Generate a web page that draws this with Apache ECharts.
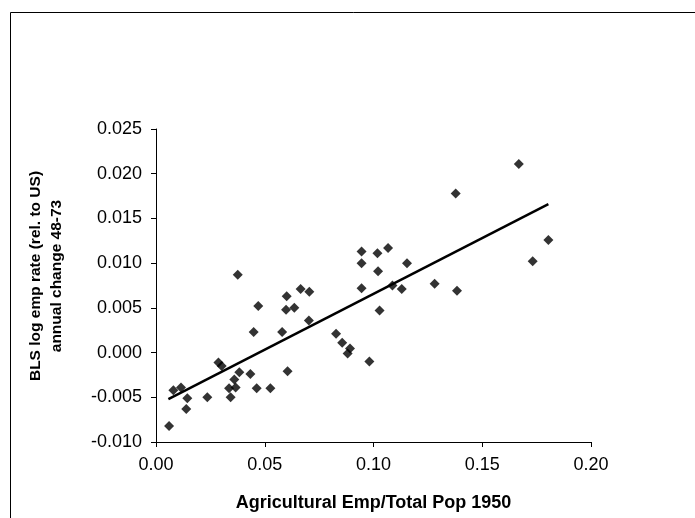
<!DOCTYPE html>
<html>
<head>
<meta charset="utf-8">
<script src="https://cdn.jsdelivr.net/npm/echarts@6/dist/echarts.min.js"></script>
<style>html,body{margin:0;padding:0;background:#fff}#c{width:695px;height:518px}</style>
</head>
<body>
<div id="c"></div>
<script>
// Agricultural employment / total population 1950 (x)
const agEmpShare = [0.0060,0.0080,0.0115,0.0144,0.0139,0.0236,0.0287,0.0302,0.0336,0.0343,
  0.0360,0.0366,0.0383,0.0434,0.0449,0.0463,0.0470,0.0526,0.0580,0.0598,
  0.0605,0.0636,0.0703,0.0828,0.0856,0.0892,0.0881,0.0376,0.0601,0.0665,
  0.0705,0.1668,0.1378,0.1804,0.1732,0.0945,0.1018,0.1067,0.0945,0.1021,
  0.1154,0.0945,0.1087,0.1130,0.1281,0.1384,0.1028,0.0981];
// BLS log employment rate (rel. to US), annual change 48-73 (y)
const empRateChange = [-0.0082,-0.0042,-0.0039,-0.0051,-0.0063,-0.0050,-0.0011,-0.0015,-0.0040,-0.0050,
  -0.0030,-0.0039,-0.0022,-0.0024,0.0023,-0.0040,0.0052,-0.0040,0.0023,0.0048,
  -0.0021,0.0050,0.0036,0.0021,0.0011,0.00045,-0.0001,0.0087,0.0063,0.0071,
  0.0068,0.0211,0.0178,0.0126,0.0102,0.0113,0.0111,0.0117,0.0100,0.0091,
  0.0100,0.0072,0.0075,0.0071,0.0077,0.0069,0.0047,-0.0010];
// Linear trend line endpoints
const trendX = [0.0057, 0.1804];
const trendY = [-0.0052, 0.0166];
// Axis ticks
const xTicks = [0.00, 0.05, 0.10, 0.15, 0.20];
const yTicks = [-0.010, -0.005, 0.000, 0.005, 0.010, 0.015, 0.020, 0.025];
// Axis titles
const xTitle = 'Agricultural Emp/Total Pop 1950';
const yTitleLines = ['BLS log emp rate (rel. to US)', 'annual change 48-73'];

const scatterData = agEmpShare.map((x, i) => [x, empRateChange[i]]);
const trendData = trendX.map((x, i) => [x, trendY[i]]);

const chart = echarts.init(document.getElementById('c'), null, {renderer: 'canvas'});
const font = 'Liberation Sans, Arial, sans-serif';
const yTitleStyle = {fontFamily: font, fontWeight: 'bold', fontSize: 15.5, fill: '#000',
  textAlign: 'center', textVerticalAlign: 'middle'};
chart.setOption({
  animation: false,
  backgroundColor: '#fff',
  graphic: [{
    type: 'rect', left: 8, top: 10, silent: true,
    shape: {x: 0, y: 0, width: 720, height: 540},
    style: {fill: 'none', stroke: '#000', lineWidth: 1}
  }, {
    type: 'text', x: 36, y: 276, rotation: Math.PI / 2, silent: true,
    style: Object.assign({text: yTitleLines[0]}, yTitleStyle)
  }, {
    type: 'text', x: 57, y: 276, rotation: Math.PI / 2, silent: true,
    style: Object.assign({text: yTitleLines[1]}, yTitleStyle)
  }],
  grid: {left: 156, right: 104, top: 129, bottom: 76, containLabel: false},
  xAxis: {
    type: 'value', min: xTicks[0], max: xTicks[xTicks.length - 1], interval: 0.05,
    name: xTitle, nameLocation: 'middle', nameGap: 52,
    nameTextStyle: {fontFamily: font, fontWeight: 'bold', fontSize: 18, color: '#000'},
    axisLine: {show: true, onZero: false, lineStyle: {color: '#000', width: 1}},
    axisTick: {show: true, inside: false, length: 5, lineStyle: {color: '#000'}},
    axisLabel: {fontFamily: font, fontSize: 18, color: '#000', margin: 14,
      formatter: v => v.toFixed(2)},
    splitLine: {show: false}
  },
  yAxis: {
    type: 'value', min: yTicks[0], max: yTicks[yTicks.length - 1], interval: 0.005,
    axisLine: {show: true, onZero: false, lineStyle: {color: '#000', width: 1}},
    axisTick: {show: true, inside: false, length: 5, lineStyle: {color: '#000'}},
    axisLabel: {fontFamily: font, fontSize: 18, color: '#000', margin: 14,
      formatter: v => v.toFixed(3)},
    splitLine: {show: false}
  },
  series: [{
    type: 'scatter', data: scatterData, symbol: 'diamond', symbolSize: 10,
    itemStyle: {color: '#000'}, z: 3
  }, {
    type: 'line', data: trendData, symbol: 'none', silent: true,
    lineStyle: {color: '#000', width: 2.5}, z: 2
  }]
});
</script>
</body>
</html>
